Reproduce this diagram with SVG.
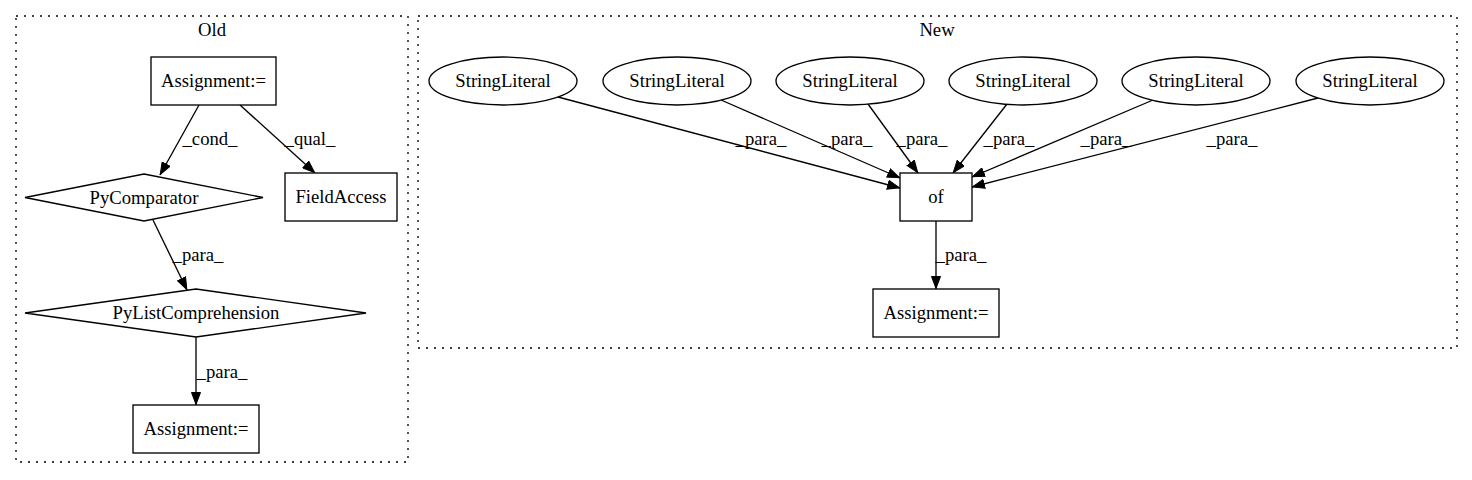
<svg xmlns="http://www.w3.org/2000/svg" width="1472" height="480" viewBox="0 0 1472 480">
<style>
  text { font-family: "Liberation Serif", "Times New Roman", serif; font-size: 18.67px; fill: #000; }
  .node { fill: #fff; stroke: #000; stroke-width: 1.33; }
  .cluster { fill: none; stroke: #000; stroke-width: 1.33; stroke-dasharray: 2,6; }
  .edge { fill: none; stroke: #000; stroke-width: 1.33; }
  .c { text-anchor: middle; }
</style>
<defs>
  <marker id="arr" viewBox="0 0 13 10" refX="13" refY="5" markerWidth="13" markerHeight="10" markerUnits="userSpaceOnUse" orient="auto">
    <path d="M0.5,0.5 L12.5,5 L0.5,9.5 Z" fill="#000" stroke="#000" stroke-width="1"/>
  </marker>
</defs>
<rect width="1472" height="480" fill="#fff"/>

<g id="cluster_old">
  <rect class="cluster" x="16" y="16" width="392" height="446"/>
  <text class="c" x="212" y="36">Old</text>
</g>
<g id="cluster_new">
  <rect class="cluster" x="418" y="16" width="1039" height="332"/>
  <text class="c" x="937" y="36">New</text>
</g>

<g id="connectors">
  <path class="edge" d="M199,105 L160,175" marker-end="url(#arr)"/>
  <text class="c" x="210" y="145">_cond_</text>
  <path class="edge" d="M240,105 L315,173" marker-end="url(#arr)"/>
  <text class="c" x="310" y="145">_qual_</text>
  <path class="edge" d="M153,220 L187,290" marker-end="url(#arr)"/>
  <text class="c" x="198" y="261">_para_</text>
  <path class="edge" d="M196,337 L196,405" marker-end="url(#arr)"/>
  <text class="c" x="222" y="378">_para_</text>

  <path class="edge" d="M558,97 L900,188" marker-end="url(#arr)"/>
  <text class="c" x="761" y="145">_para_</text>
  <path class="edge" d="M721,100 L900,178" marker-end="url(#arr)"/>
  <text class="c" x="847" y="145">_para_</text>
  <path class="edge" d="M868,104 L918,173" marker-end="url(#arr)"/>
  <text class="c" x="922" y="145">_para_</text>
  <path class="edge" d="M1007,104 L953,173" marker-end="url(#arr)"/>
  <text class="c" x="1009" y="145">_para_</text>
  <path class="edge" d="M1153,100 L972,177" marker-end="url(#arr)"/>
  <text class="c" x="1106" y="145">_para_</text>
  <path class="edge" d="M1318,98 L972,187" marker-end="url(#arr)"/>
  <text class="c" x="1232" y="145">_para_</text>
  <path class="edge" d="M936,221 L936,289" marker-end="url(#arr)"/>
  <text class="c" x="961" y="261">_para_</text>
</g>

<g id="old_assign1">
  <rect class="node" x="151" y="57" width="125" height="48"/>
  <text class="c" x="213.5" y="87">Assignment:=</text>
</g>
<g id="old_pycomparator">
  <polygon class="node" points="144,174 263,197.5 144,221 25,197.5"/>
  <text class="c" x="144" y="203.5">PyComparator</text>
</g>
<g id="old_fieldaccess">
  <rect class="node" x="285" y="173" width="112" height="48"/>
  <text class="c" x="341" y="203">FieldAccess</text>
</g>
<g id="old_pylistcomp">
  <polygon class="node" points="196,289 366,313 196,337 25,313"/>
  <text class="c" x="196" y="319">PyListComprehension</text>
</g>
<g id="old_assign2">
  <rect class="node" x="133" y="405" width="126" height="48"/>
  <text class="c" x="196" y="435">Assignment:=</text>
</g>

<g id="new_str1">
  <ellipse class="node" cx="503" cy="81" rx="74" ry="24"/>
  <text class="c" x="503" y="87">StringLiteral</text>
</g>
<g id="new_str2">
  <ellipse class="node" cx="677" cy="81" rx="74" ry="24"/>
  <text class="c" x="677" y="87">StringLiteral</text>
</g>
<g id="new_str3">
  <ellipse class="node" cx="850" cy="81" rx="74" ry="24"/>
  <text class="c" x="850" y="87">StringLiteral</text>
</g>
<g id="new_str4">
  <ellipse class="node" cx="1023" cy="81" rx="74" ry="24"/>
  <text class="c" x="1023" y="87">StringLiteral</text>
</g>
<g id="new_str5">
  <ellipse class="node" cx="1196" cy="81" rx="74" ry="24"/>
  <text class="c" x="1196" y="87">StringLiteral</text>
</g>
<g id="new_str6">
  <ellipse class="node" cx="1370" cy="81" rx="74" ry="24"/>
  <text class="c" x="1370" y="87">StringLiteral</text>
</g>
<g id="new_of">
  <rect class="node" x="900" y="173" width="72" height="48"/>
  <text class="c" x="936" y="203">of</text>
</g>
<g id="new_assign">
  <rect class="node" x="873" y="289" width="126" height="48"/>
  <text class="c" x="936" y="319">Assignment:=</text>
</g>
</svg>
